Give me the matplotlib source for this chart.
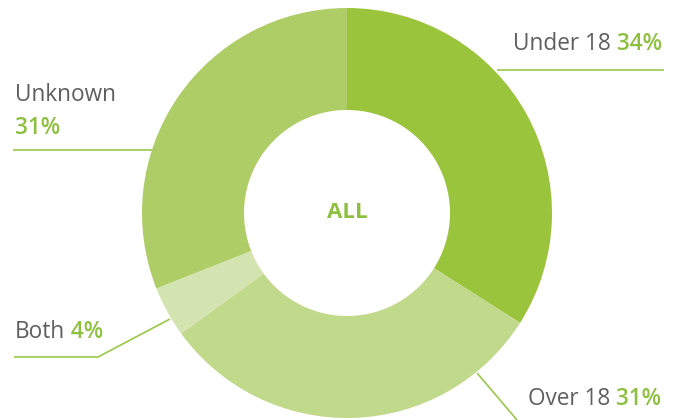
import matplotlib
matplotlib.use("Agg")
import matplotlib.pyplot as plt

plt.rcParams['font.family'] = ['Open Sans', 'DejaVu Sans']

# data
categories = ["Under 18", "Over 18", "Both", "Unknown"]
shares = [34, 31, 4, 31]
colors = ["#9bc43d", "#c1d98a", "#d4e4b0", "#afcd66"]
center_label = "ALL"

W, H = 681, 420
GRAY = "#5f5f5f"
GREEN = "#8dc03f"
LINE = "#9ac84a"

fig = plt.figure(figsize=(W / 100, H / 100), dpi=100)
ax = fig.add_axes([0, 0, 1, 1])

cx, cy = 347, H - 213
ax.pie(shares, colors=colors, startangle=90, counterclock=False,
       radius=205, center=(cx, cy),
       wedgeprops=dict(width=102, linewidth=0))
ax.set_xlim(0, W)
ax.set_ylim(0, H)
ax.set_aspect('equal')
ax.axis('off')

ax.text(cx, cy, center_label, ha='center', va='center', color=GREEN,
        fontsize=16, fontweight='bold')


def px(x, y):
    return x, H - y


# leader lines (pixel coords, top-left origin)
leaders = [
    [(497, 70), (664, 70)],
    [(477, 373), (517, 420)],
    [(170, 319), (98, 357), (14, 357)],
    [(152, 150), (13, 150)],
]
for pts in leaders:
    xs, ys = zip(*[px(*p) for p in pts])
    ax.plot(xs, ys, color=LINE, lw=1.2, solid_capstyle='butt')

fs = 16.3


def label(x, y, name, pct, newline=False):
    t = ax.text(*px(x, y), name, ha='left', va='baseline', color=GRAY,
                fontsize=fs)
    if newline:
        ax.text(*px(x, y + 33), pct, ha='left', va='baseline', color=GREEN,
                fontsize=fs, fontweight='semibold')
    else:
        ax.annotate(" " + pct, xy=(1, 0), xycoords=t, ha='left', va='bottom',
                    color=GREEN, fontsize=fs, fontweight='semibold')


label(513, 50, categories[0], f"{shares[0]}%")
label(528, 405, categories[1], f"{shares[1]}%")
label(15, 338, categories[2], f"{shares[2]}%")
label(15, 101, categories[3], f"{shares[3]}%", newline=True)

fig.savefig("out.png", dpi=100)
